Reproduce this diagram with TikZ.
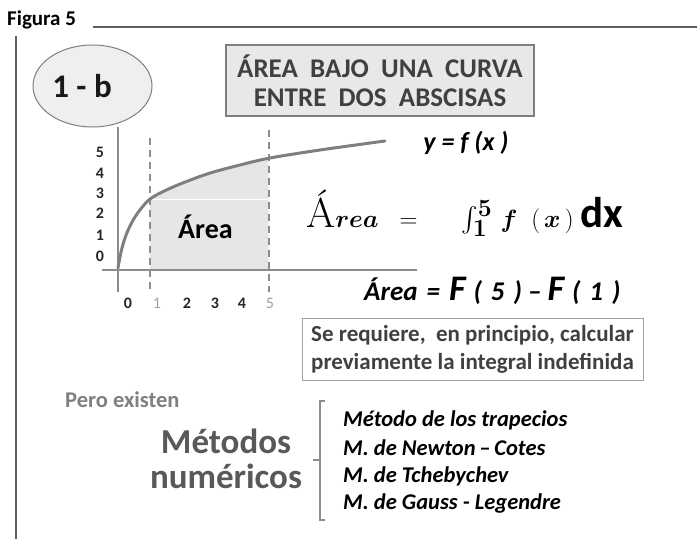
\documentclass[tikz,border=0pt]{standalone}
\usepackage{amsmath}
\usepackage{bm}
\usepackage{fontspec}
\usetikzlibrary{shapes.geometric}
\newfontfamily\cf{Carlito}
\definecolor{rulegray}{HTML}{606060}
\definecolor{axisgray}{HTML}{8C8C8C}
\definecolor{curvegray}{HTML}{7F7F7F}
\definecolor{areagray}{HTML}{E6E6E6}
\definecolor{boxfill}{HTML}{E8E8E8}
\definecolor{boxline}{HTML}{7F7F7F}
\definecolor{darktext}{HTML}{404040}
\definecolor{midtext}{HTML}{595959}
\definecolor{lighttext}{HTML}{808080}
\definecolor{faint}{HTML}{A0A0A0}
\tikzset{
  rule/.style={draw=rulegray, line width=2pt},
  axis/.style={draw=axisgray, line width=1.5pt},
  guide/.style={draw=axisgray, line width=2pt, dash pattern=on 7pt off 5pt},
  curve/.style={draw=curvegray, line width=3pt, line cap=round},
  lbl/.style={font=\cf\bfseries\fontsize{16}{18}\selectfont, text=black!85, inner sep=0pt},
  flbl/.style={font=\cf\fontsize{16}{18}\selectfont, text=faint, inner sep=0pt},
  item/.style={anchor=west, font=\cf\bfseries\itshape\fontsize{22.5}{26}\selectfont, inner sep=0pt},
  brk/.style={draw=axisgray, line width=2pt}
}
\begin{document}
\begin{tikzpicture}[x=1pt,y=-1pt]
\useasboundingbox (0,0) rectangle (698,540);
% header
\node[anchor=west, inner sep=0pt, font=\cf\bfseries\fontsize{21}{24}\selectfont] (fig) at (7,20) {Figura 5};
\coordinate (r1) at (93,27); \coordinate (r2) at (697,27);
\draw[rule] (r1) -- (r2);
\coordinate (l1) at (16,36); \coordinate (l2) at (16,539);
\draw[rule] (l1) -- (l2);
% badge
\node[ellipse, draw=boxline, line width=1pt, fill=boxfill!70!white, minimum width=119pt, minimum height=82pt] (badge) at (92.5,86) {};
\node[font=\cf\bfseries\fontsize{33}{36}\selectfont, text=black!90, inner sep=0pt] (badget) at (82,86) {1 - b};
% title
\node[draw=boxline, line width=2.5pt, fill=boxfill, minimum width=308pt, minimum height=71pt, align=center, text=darktext, font=\cf\bfseries\fontsize{27}{29}\selectfont, inner sep=0pt] (title) at (380,80.5) {ÁREA\ \ BAJO\ \ UNA\ \ CURVA\\ENTRE\ \ DOS\ \ ABSCISAS};
% shaded area
\begin{scope}
\clip (150,100) rectangle (268.5,270);
\fill[areagray] plot[smooth] coordinates {(118,268) (121,252) (125,238) (130,226) (137,214) (150,199) (173,187) (207,174) (240,165) (270,158) (320,150) (385,141)} -- (385,270) -- (118,270) -- cycle;
\end{scope}
\coordinate (w1) at (150,199); \coordinate (w2) at (268,199);
\draw[white, line width=1pt] (w1) -- (w2);
% axes
\coordinate (ya) at (118,127); \coordinate (yb) at (118,292);
\coordinate (xa) at (102,270); \coordinate (xb) at (417,270);
\draw[axis] (ya) -- (yb);
\draw[axis] (xa) -- (xb);
\coordinate (d1a) at (150,138); \coordinate (d1b) at (150,292);
\coordinate (d2a) at (269,130); \coordinate (d2b) at (269,292);
\draw[guide] (d1a) -- (d1b);
\draw[guide] (d2a) -- (d2b);
\draw[curve] plot[smooth] coordinates {(118,268) (121,252) (125,238) (130,226) (137,214) (150,199) (173,187) (207,174) (240,165) (270,158) (320,150) (385,141)};
% axis labels
\node[lbl] (y5) at (100,152) {5};
\node[lbl] (y4) at (100,173) {4};
\node[lbl] (y3) at (100,193) {3};
\node[lbl] (y2) at (100,213) {2};
\node[lbl] (y1) at (100,235) {1};
\node[lbl] (y0) at (100,256) {0};
\node[lbl] (x0) at (128,303) {0};
\node[flbl] (x1) at (157,303) {1};
\node[lbl] (x2) at (187,303) {2};
\node[lbl] (x3) at (215,303) {3};
\node[lbl] (x4) at (242,303) {4};
\node[flbl] (x5) at (270,303) {5};
\node[font=\cf\bfseries\fontsize{28}{30}\selectfont, inner sep=0pt] (arealbl) at (205.5,227) {Área};
% function label
\node[font=\cf\bfseries\itshape\fontsize{26}{28}\selectfont, inner sep=0pt] (fx) at (466,143) {y = f (x )};
% formula
\node[anchor=base west, inner sep=0pt, font=\fontsize{42}{44}\selectfont] (formA) at (306,227) {Á$\bm{rea}\;\;=$};
\node[anchor=base west, inner sep=0pt, font=\fontsize{40}{44}\selectfont] (formB) at (461,227) {$\textstyle\int_{\bm{1}}^{\bm{5}}\,\bm{f}\;\;(\,\bm{x}\,)\;${\cf\bfseries\fontsize{43}{46}\selectfont dx}};
\node[anchor=base west, inner sep=0pt, font=\cf\bfseries\itshape\fontsize{27}{30}\selectfont] (fdiff) at (364,300) {Área\hspace{9pt}=\hspace{9pt}{\fontsize{36}{38}\selectfont F}\hspace{8pt}(\hspace{9pt}5\hspace{9pt})\hspace{6pt}–\hspace{6pt}{\fontsize{36}{38}\selectfont F}\hspace{8pt}(\hspace{9pt}1\hspace{9pt})};
% requirement box
\node[draw=faint, line width=1pt, minimum width=341pt, minimum height=62pt, align=center, text=darktext, font=\cf\bfseries\fontsize{23}{28}\selectfont, inner sep=0pt] (req) at (472.5,349) {Se requiere,\ \ en principio, calcular\\previamente la integral indefinida};
% methods
\node[anchor=west, inner sep=0pt, text=lighttext, font=\cf\bfseries\fontsize{22.5}{26}\selectfont] (pero) at (65,400) {Pero existen};
\node[align=center, inner sep=0pt, text=midtext, font=\cf\bfseries\fontsize{35}{35}\selectfont] (metodos) at (226,459) {Métodos\\numéricos};
\coordinate (b1) at (325,401); \coordinate (b2) at (320,401);
\coordinate (b3) at (320,520); \coordinate (b4) at (325,520);
\coordinate (bm) at (320,460); \coordinate (bt) at (313,460);
\draw[brk] (b1) -- (b2) -- (b3) -- (b4);
\draw[brk] (bm) -- (bt);
\node[item] (m1) at (343,420) {Método de los trapecios};
\node[item] (m2) at (343,448) {M. de Newton\,–\,Cotes};
\node[item] (m3) at (343,476) {M. de Tchebychev};
\node[item] (m4) at (343,503) {M. de Gauss - Legendre};
\end{tikzpicture}
\end{document}
